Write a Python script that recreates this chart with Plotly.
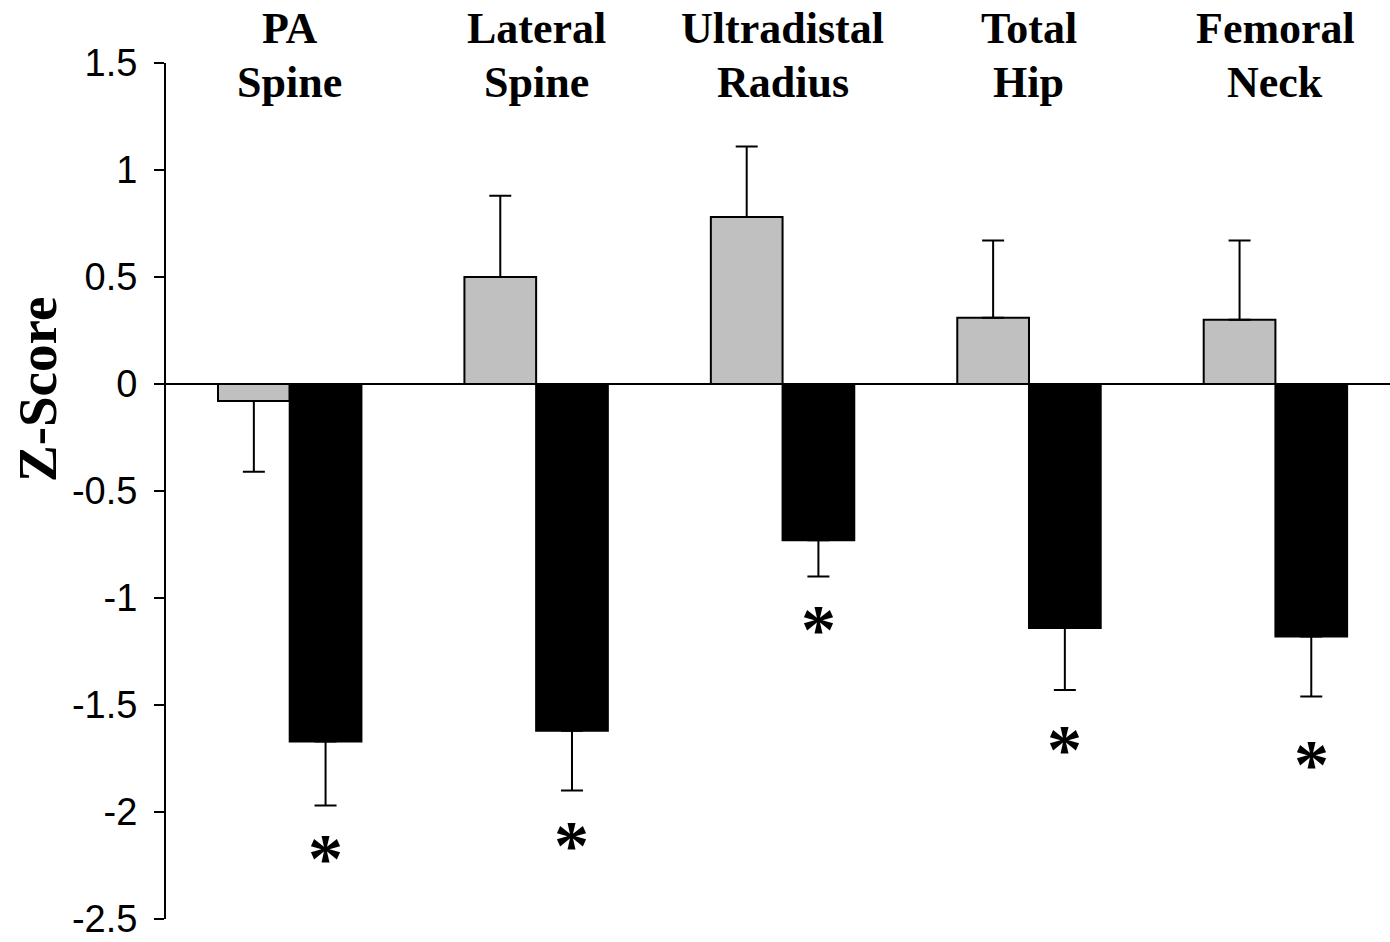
import plotly.graph_objects as go

categories = ["PA<br>Spine", "Lateral<br>Spine", "Ultradistal<br>Radius", "Total<br>Hip", "Femoral<br>Neck"]
gray_mean = [-0.08, 0.50, 0.78, 0.31, 0.30]
gray_se = [0.33, 0.38, 0.33, 0.36, 0.37]
black_mean = [-1.67, -1.62, -0.73, -1.14, -1.18]
black_se = [0.30, 0.28, 0.17, 0.29, 0.28]
star_y = [-2.17, -2.11, -1.10, -1.66, -1.73]
y_ticks = [1.5, 1, 0.5, 0, -0.5, -1, -1.5, -2, -2.5]

xs = list(range(len(categories)))

def err_parts(means, se):
    up = [s if m >= 0 else 0 for m, s in zip(means, se)]
    down = [s if m < 0 else 0 for m, s in zip(means, se)]
    return up, down

g_up, g_down = err_parts(gray_mean, gray_se)
b_up, b_down = err_parts(black_mean, black_se)

fig = go.Figure()
fig.add_trace(go.Bar(
    x=xs, y=gray_mean, marker=dict(color="#c0c0c0", line=dict(color="black", width=2)),
    error_y=dict(type="data", symmetric=False, array=g_up, arrayminus=g_down,
                 color="black", thickness=2, width=11),
    showlegend=False))
fig.add_trace(go.Bar(
    x=xs, y=black_mean, marker=dict(color="black", line=dict(color="black", width=2)),
    error_y=dict(type="data", symmetric=False, array=b_up, arrayminus=b_down,
                 color="black", thickness=2, width=11),
    showlegend=False))

bw = 0.291
for i, cat in enumerate(categories):
    lines = cat.split("<br>")
    for j, line in enumerate(lines):
        fig.add_annotation(x=i, xref="x", y=1, yref="paper", text="<b>" + line + "</b>",
                           showarrow=False, yanchor="middle", yshift=35 - 54 * j,
                           font=dict(family="Liberation Serif", size=44, color="black"))
    fig.add_annotation(x=i + bw / 2, xref="x", y=star_y[i], yref="y", text="<b>*</b>",
                       showarrow=False, yanchor="middle", yshift=-10,
                       font=dict(family="Liberation Serif", size=70, color="black"))

fig.add_annotation(x=0, xref="paper", y=0, yref="y", text="<b>Z-Score</b>",
                   textangle=-90, showarrow=False, xanchor="center", yanchor="middle",
                   xshift=-129, yshift=-6,
                   font=dict(family="Liberation Serif", size=55, color="black"))

fig.update_layout(
    width=1390, height=942,
    margin=dict(l=166, r=0, t=63, b=23),
    paper_bgcolor="white", plot_bgcolor="white",
    barmode="group", bargap=0.418, bargroupgap=0,
    xaxis=dict(range=[-0.502, 4.465], showticklabels=False, showgrid=False,
               zeroline=False, showline=False, ticks=""),
    yaxis=dict(range=[-2.5, 1.5], tickvals=y_ticks, ticktext=[("%g" % v) for v in y_ticks],
               showgrid=False, zeroline=True, zerolinecolor="black", zerolinewidth=2,
               showline=True, linecolor="black", linewidth=2,
               ticks="outside", ticklen=10, tickwidth=2, tickcolor="black",
               ticklabelstandoff=9,
               tickfont=dict(family="Liberation Sans", size=38, color="black")),
)
fig.write_html("out.html")
